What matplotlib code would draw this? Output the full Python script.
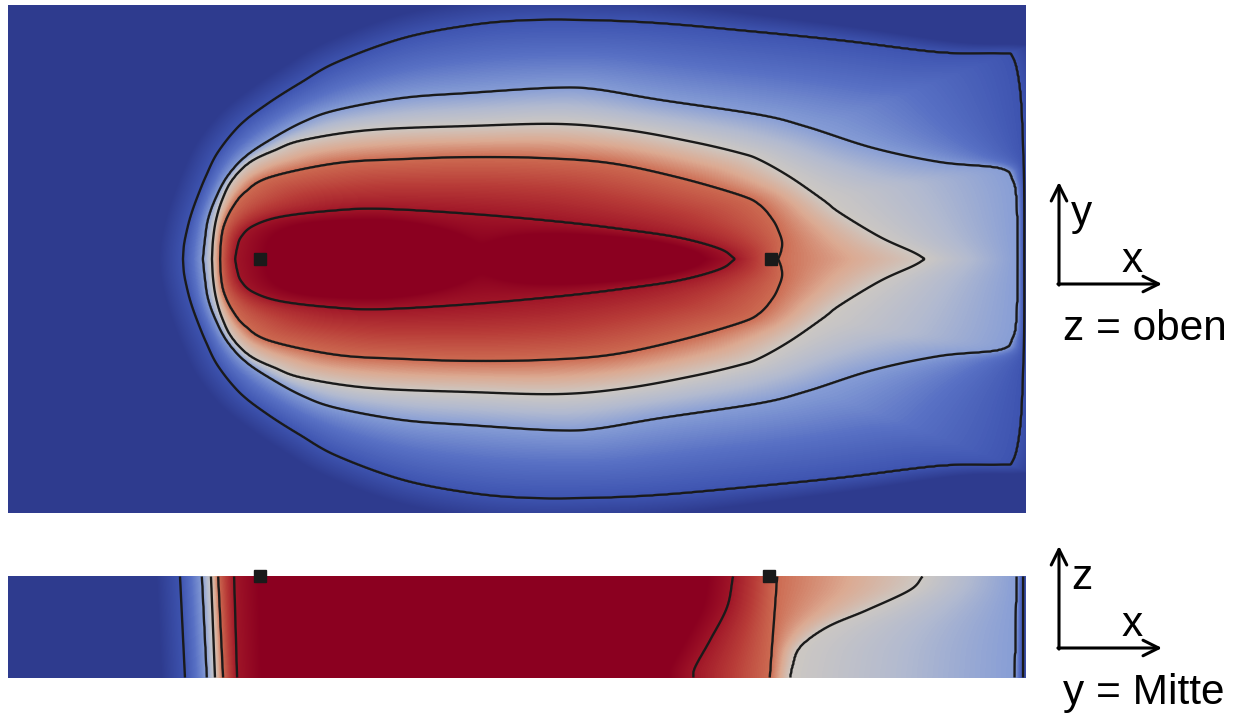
import numpy as np
import matplotlib
matplotlib.use("Agg")
import matplotlib.pyplot as plt
from matplotlib.colors import LinearSegmentedColormap

W, H = 1239, 719

# Traced contour lines of the top view (z = oben), upper half, image pixels
# ordered from the left tip on the axis to the right end on the axis
c1_top = [(183, 259), (184, 245), (187, 230), (191, 215), (197, 198), (206, 176),
          (218, 152), (240, 125), (267, 104), (300, 83), (337, 62), (403, 38),
          (470, 25), (527, 20), (593, 20), (660, 23), (740, 30), (840, 40),
          (940, 52), (1000, 53), (1013, 57), (1020, 87), (1023, 137),
          (1024, 200), (1024, 259)]
c2_top = [(203, 259), (205, 240), (208, 220), (215, 200), (227, 177), (245, 157),
          (270, 140), (303, 122), (337, 110), (403, 98), (470, 93), (550, 88),
          (593, 89), (660, 100), (760, 115), (807, 127), (873, 148), (940, 162),
          (1000, 168), (1013, 180), (1017, 203), (1018, 259)]
c3_top = [(212, 259), (213, 240), (216, 220), (222, 200), (232, 180), (250, 162),
          (275, 150), (303, 140), (370, 130), (470, 126), (560, 124), (627, 130),
          (693, 142), (740, 153), (760, 160), (790, 177), (823, 200), (840, 213),
          (880, 237), (913, 252), (925, 259)]
c4_top = [(220, 259), (221, 240), (224, 225), (232, 208), (245, 192), (270, 177),
          (337, 163), (403, 159), (470, 157), (543, 158), (610, 163), (677, 177),
          (740, 195), (760, 205), (773, 220), (779, 232), (782, 242), (781, 251),
          (778, 259)]
c5_top = [(235, 259), (237, 248), (241, 237), (253, 226), (280, 217), (330, 211),
          (380, 209), (470, 214), (560, 222), (627, 230), (680, 238), (720, 249),
          (735, 259)]
top_contours = [c1_top, c2_top, c3_top, c4_top, c5_top]

# Traced contour lines of the side view (y = Mitte): (x, z) in image pixels
l1_side = [(180, 576), (185, 678)]
l2_side = [(202, 576), (207, 678)]
l3_side = [(211, 576), (215, 678)]
l4_side = [(218, 576), (223, 678)]
l5_side = [(234, 576), (237, 678)]
a_side = [(733, 576), (727, 607), (710, 640), (695, 667), (693, 678)]
b_side = [(777, 576), (770, 678)]
c_side = [(923, 576), (910, 590), (867, 610), (827, 627), (800, 647), (792, 667), (790, 678)]
d_side = [(1017, 576), (1015, 678)]
e_side = [(1023, 576), (1023, 678)]

levels = [1, 2, 3, 4, 5]
sensor_x_top = [260, 771]
sensor_x_side = [260, 769]

# colour scale (value -> colour)
cmap_values = [0, 1, 1.5, 2, 2.5, 3, 3.5, 4, 4.5, 5, 6]
cmap_colors = ["#2e3b8e", "#3e54b0", "#5870c4", "#879ed6", "#b2bad0", "#cdc8c3",
               "#dcaa92", "#cd6c52", "#b83c38", "#a01628", "#8b0020"]

TOP = (8, 1026, 5, 513)
SIDE = (8, 1026, 576, 678)
CX, CY = 480.0, 259.0


def catmull(pts, n=16):
    P = np.asarray(pts, dtype=float)
    P = np.vstack([2 * P[0] - P[1], P, 2 * P[-1] - P[-2]])
    t = np.linspace(0, 1, n, endpoint=False)[:, None]
    out = []
    for i in range(1, len(P) - 2):
        p0, p1, p2, p3 = P[i - 1:i + 3]
        out.append(0.5 * (2 * p1 + (p2 - p0) * t
                          + (2 * p0 - 5 * p1 + 4 * p2 - p3) * t ** 2
                          + (-p0 + 3 * p1 - 3 * p2 + p3) * t ** 3))
    out.append(P[-2][None])
    return np.vstack(out)


def ray_radius(upper, theta):
    up = catmull(upper)
    low = up[::-1].copy()
    low[:, 1] = 2 * CY - low[:, 1]
    poly = np.vstack([up, low[1:-1]])
    ang = np.arctan2(poly[:, 1] - CY, poly[:, 0] - CX)
    rad = np.hypot(poly[:, 1] - CY, poly[:, 0] - CX)
    order = np.argsort(ang)
    return np.interp(theta, ang[order], rad[order], period=2 * np.pi)


# top view field
xs = np.arange(TOP[0] + 0.5, TOP[1], 1.0)
ys = np.arange(TOP[2] + 0.5, TOP[3], 1.0)
X, Y = np.meshgrid(xs, ys)
theta = np.arctan2(Y - CY, X - CX)
r = np.hypot(Y - CY, X - CX)
R = [ray_radius(c, theta) for c in top_contours]

V = np.clip(1 - (r - R[0]) / 24.0, 0, 1)
for k in range(4):
    inside = (r < R[k]) & (r >= R[k + 1])
    V = np.where(inside, (k + 1) + (R[k] - r) / (R[k] - R[k + 1]), V)
V = np.where(r < R[4], np.clip(5 + (R[4] - r) / 30.0, 5, 6), V)

# side view field
zs = np.arange(SIDE[2] + 0.5, SIDE[3], 1.0)
side_lines = [catmull(l, 24) for l in
              [l1_side, l2_side, l3_side, l4_side, l5_side, a_side, b_side, c_side, d_side, e_side]]
S = np.zeros((len(zs), len(xs)))
for i, z in enumerate(zs):
    px = [np.interp(z, arr[:, 1], arr[:, 0]) for arr in side_lines]
    xp = [px[0] - 24, px[0], px[1], px[2], px[3], px[4], px[4] + 25,
          px[5] - 25, px[5], px[6], px[7], px[8], px[9], px[9] + 10]
    fp = [0, 1, 2, 3, 4, 5, 6, 6, 5, 4, 3, 2, 1, 0]
    S[i] = np.interp(xs, xp, fp)
XS, ZS = np.meshgrid(xs, zs)

cmap = LinearSegmentedColormap.from_list(
    "cw", [(v / 6.0, c) for v, c in zip(cmap_values, cmap_colors)])

plt.rcParams["font.family"] = ["Liberation Sans", "DejaVu Sans"]
fig = plt.figure(figsize=(W / 100, H / 100), dpi=100)


def panel(box):
    x0, x1, y0, y1 = box
    ax = fig.add_axes([x0 / W, (H - y1) / H, (x1 - x0) / W, (y1 - y0) / H])
    ax.set_xlim(x0, x1)
    ax.set_ylim(y1, y0)
    ax.axis("off")
    return ax


ax1 = panel(TOP)
ax1.imshow(V, extent=(TOP[0], TOP[1], TOP[3], TOP[2]), origin="upper",
           cmap=cmap, vmin=0, vmax=6, aspect="auto", interpolation="bilinear")
ax1.contour(X, Y, V, levels=levels, colors="#1a1a1a", linewidths=1.7)
ax1.plot(sensor_x_top, [CY] * len(sensor_x_top), "s", color="#1a1a1a", markersize=8.6)

ax2 = panel(SIDE)
ax2.imshow(S, extent=(SIDE[0], SIDE[1], SIDE[3], SIDE[2]), origin="upper",
           cmap=cmap, vmin=0, vmax=6, aspect="auto", interpolation="bilinear")
ax2.contour(XS, ZS, S, levels=levels, colors="#1a1a1a", linewidths=1.7)
ax2.plot(sensor_x_side, [SIDE[2]] * len(sensor_x_side), "s", color="#1a1a1a",
         markersize=8.6, clip_on=False)

# coordinate glyphs
ov = fig.add_axes([0, 0, 1, 1], facecolor="none")
ov.set_xlim(0, W)
ov.set_ylim(H, 0)
ov.axis("off")
arrow = dict(arrowstyle="->", lw=2.2, color="black", mutation_scale=28,
             shrinkA=0, shrinkB=0)
for corner, top, lab_v, caption in [((1059, 284), 182, "y", "z = oben"),
                                      ((1059, 648), 546, "z", "y = Mitte")]:
    cx, cy = corner
    ov.annotate("", xy=(cx, top), xytext=(cx, cy + 1.1), arrowprops=arrow)
    ov.annotate("", xy=(cx + 103, cy), xytext=(cx - 1.1, cy), arrowprops=arrow)
    ov.text(cx + 12, cy - 59, lab_v, fontsize=30.5, ha="left", va="baseline")
    ov.text(cx + 63, cy - 12, "x", fontsize=30.5, ha="left", va="baseline")
    ov.text(cx + 4, cy + 56, caption, fontsize=30.5, ha="left", va="baseline")

fig.savefig("out.png", dpi=100)
